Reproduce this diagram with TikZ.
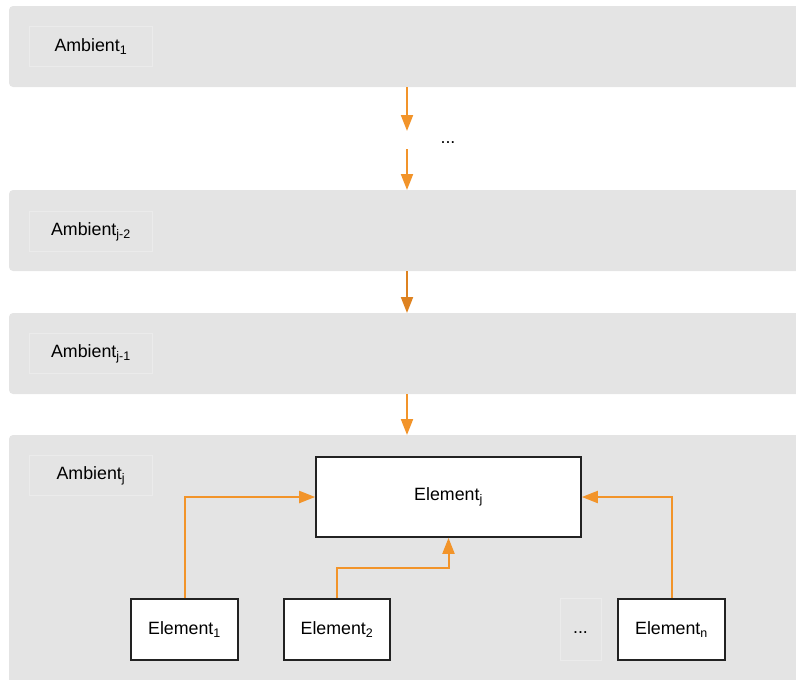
\documentclass[tikz,border=0pt]{standalone}
\usepackage{fontspec}
\setmainfont{Liberation Sans}
\usetikzlibrary{arrows.meta}
\definecolor{bandgray}{HTML}{E4E4E4}
\definecolor{flow}{RGB}{242,148,42}
\definecolor{flowdark}{RGB}{222,130,32}
\definecolor{edgegray}{HTML}{222222}
\begin{document}
\begin{tikzpicture}[x=1pt,y=-1pt,
  font=\fontsize{17.8pt}{21pt}\selectfont,
  band/.style={fill=bandgray,draw=none,rounded corners=4pt},
  tag/.style={draw=white!25!bandgray,line width=0.8pt,minimum width=123pt,minimum height=40pt,inner sep=0pt,anchor=north west},
  elem/.style={draw=edgegray,fill=white,line width=1.7pt,inner sep=0pt},
  flowline/.style={draw=flow,line width=2pt,-{Triangle[length=16pt,width=12pt]}},
]
\useasboundingbox (0,0) rectangle (796,680);

% layer bands
\path[band] (9,6) rectangle (806,87);
\path[band] (9,190) rectangle (806,271);
\path[band] (9,313) rectangle (806,394);
\path[band] (9,435) rectangle (806,692);

% layer names
\node[tag] (a1) at (29,26) {Ambient\textsubscript{1}};
\node[tag] (a2) at (29,211) {Ambient\textsubscript{j-2}};
\node[tag] (a3) at (29,333) {Ambient\textsubscript{j-1}};
\node[tag] (a4) at (29,455) {Ambient\textsubscript{j}};

% flow between layers
\coordinate (b1) at (407,87);
\coordinate (g1) at (407,131);
\coordinate (g2) at (407,149);
\coordinate (b2t) at (407,190);
\coordinate (b2b) at (407,271);
\coordinate (b3t) at (407,313);
\coordinate (b3b) at (407,394);
\coordinate (b4t) at (407,435);
\node (gap) at (448,143) {...};
\draw[flowline] (b1) -- (g1);
\draw[flowline] (g2) -- (b2t);
\draw[flowline,draw=flowdark] (b2b) -- (b3t);
\draw[flowline] (b3b) -- (b4t);

% elements of the last layer
\node[elem,minimum width=265pt,minimum height=80pt] (ej) at (448.5,497) {Element\textsubscript{j}};
\node[elem,minimum width=107pt,minimum height=61pt] (e1) at (184.5,629.5) {Element\textsubscript{1}};
\node[elem,minimum width=106pt,minimum height=61pt] (e2) at (337,629.5) {Element\textsubscript{2}};
\node[elem,minimum width=107pt,minimum height=61pt] (en) at (671.5,629.5) {Element\textsubscript{n}};
\node[draw=white!25!bandgray,line width=0.8pt,minimum width=41pt,minimum height=62pt,inner sep=0pt,text height=9pt,text depth=0pt] (dots) at (580.5,629) {...};

\draw[flowline] (e1.north) |- (ej.west);
\draw[flowline] (e2.north) |- (448.5,568) -- (ej.south);
\draw[flowline] (en.north) |- (ej.east);
\end{tikzpicture}
\end{document}
